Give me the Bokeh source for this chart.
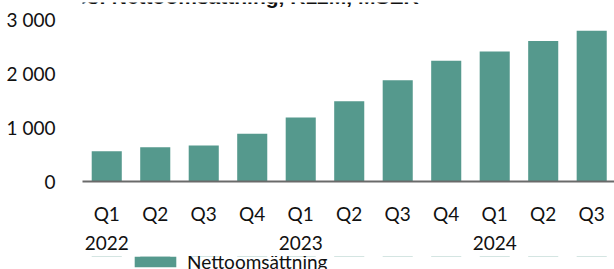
from bokeh.plotting import figure
from bokeh.models import Range1d, FixedTicker, ColumnDataSource, Legend, LegendItem, Label
from bokeh.layouts import column
from bokeh.embed import file_html
from bokeh.resources import INLINE

title_text = "Services: Nettoomsättning, R12M, MSEK"
quarters = ["Q1", "Q2", "Q3", "Q4", "Q1", "Q2", "Q3", "Q4", "Q1", "Q2", "Q3"]
years = ["2022", "", "", "", "2023", "", "", "", "2024", "", ""]
values = [560, 635, 670, 885, 1190, 1490, 1880, 2245, 2415, 2610, 2800]
y_ticks = [0, 1000, 2000, 3000]
y_labels = ["0", "1 000", "2 000", "3 000"]
series_name = "Nettoomsättning"

FONT = "Lato"
FS = "19px"
TXT = "#111111"
BAR = "#55998D"

idx = list(range(len(values)))
src = ColumnDataSource(dict(x=idx, top=values))

# --- main chart
p = figure(width=614, height=256, output_backend="svg", toolbar_location=None,
           x_range=Range1d(-0.5, 10.47), y_range=Range1d(0, 3325),
           min_border_left=82, min_border_right=0, min_border_top=2, min_border_bottom=75)
p.outline_line_color = None
p.xgrid.visible = False
p.ygrid.visible = False
p.background_fill_color = "white"
p.border_fill_color = "white"

r = p.vbar(x="x", top="top", width=0.62, bottom=0, source=src,
           fill_color=BAR, line_color=None)

xa = p.xaxis[0]
xa.ticker = FixedTicker(ticks=idx)
xa.major_label_overrides = {i: (q + "\n" + y if y else q) for i, (q, y) in enumerate(zip(quarters, years))}
xa.major_tick_line_color = None
xa.minor_tick_line_color = None
xa.axis_line_color = "#6a6a6a"
xa.axis_line_width = 2
xa.major_label_text_font = FONT
xa.major_label_text_font_size = FS
xa.major_label_text_color = TXT
xa.major_label_text_line_height = 1.27
xa.major_label_standoff = 14

ya = p.yaxis[0]
ya.ticker = FixedTicker(ticks=y_ticks)
ya.major_label_overrides = {t: l for t, l in zip(y_ticks, y_labels)}
ya.axis_line_color = None
ya.major_tick_line_color = None
ya.minor_tick_line_color = None
ya.major_label_text_font = FONT
ya.major_label_text_font_size = FS
ya.major_label_text_color = TXT
ya.major_label_standoff = 21

# title: sits above the top edge as in the reference, only its lowest part shows
p.add_layout(Label(x=-70, y=185, x_units="screen", y_units="screen", text=title_text,
                   text_font="Liberation Sans", text_font_size="21px",
                   text_font_style="bold", text_color=TXT, text_baseline="alphabetic"))

# --- legend strip (its frame is aligned with the chart's frame by the column layout)
leg_fig = figure(width=614, height=13, output_backend="svg", toolbar_location=None,
                 x_axis_location=None, y_axis_location=None,
                 x_range=Range1d(-0.5, 10.47), y_range=Range1d(-100000, -99999),
                 min_border_left=0, min_border_right=0, min_border_top=0, min_border_bottom=0)
leg_fig.outline_line_color = None
leg_fig.grid.visible = False
leg_fig.background_fill_color = "white"
leg_fig.border_fill_color = "white"
swatch = leg_fig.vbar(x="x", top="top", width=0.62, bottom=0, source=src,
                      fill_color=BAR, line_color=None)
legend = Legend(items=[LegendItem(label=series_name, renderers=[swatch])],
                location=(47, -4), orientation="horizontal",
                glyph_width=52, glyph_height=13, label_standoff=6,
                padding=0, margin=0, border_line_color=None,
                background_fill_alpha=0,
                label_text_font=FONT, label_text_font_size=FS, label_text_color=TXT)
leg_fig.add_layout(legend, "center")

layout = column(p, leg_fig, spacing=0)
open("out.html", "w").write(file_html(layout, INLINE))
